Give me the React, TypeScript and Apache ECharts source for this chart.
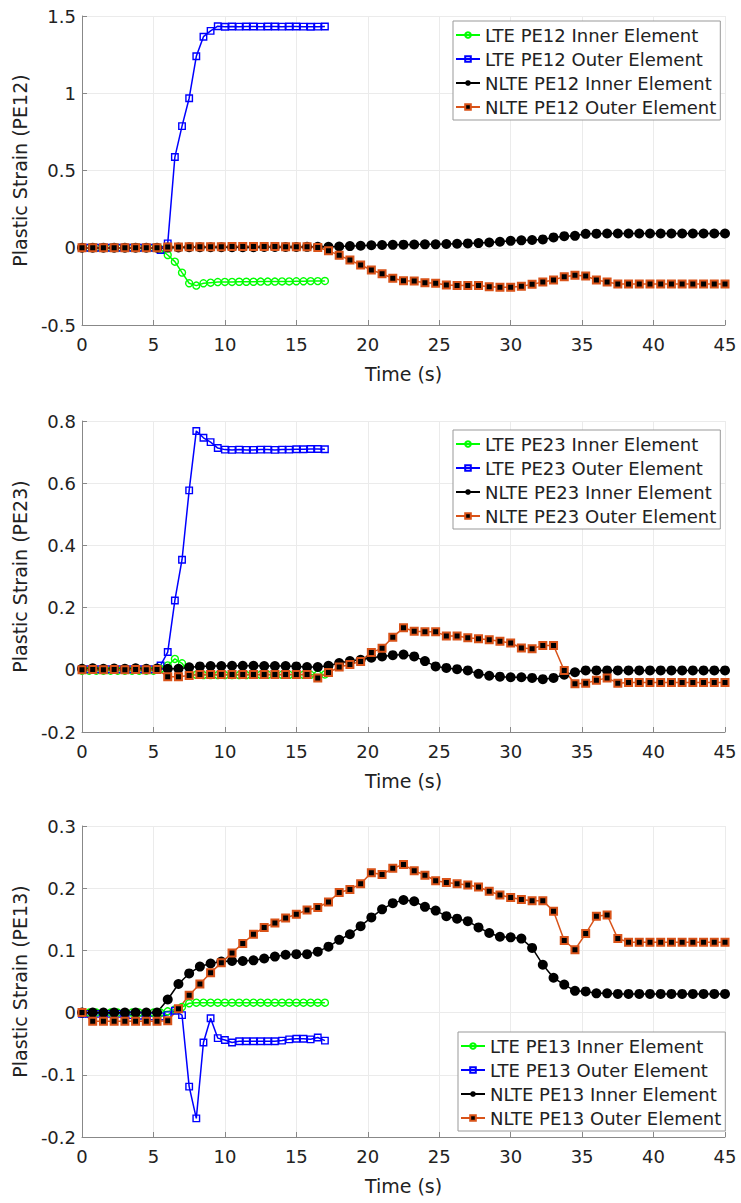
import React, { useEffect, useRef } from "react";
import * as echarts from "echarts";

const tLTE = [0, 0.5, 1, 1.5, 2, 2.5, 3, 3.5, 4, 4.5, 5, 5.5, 6, 6.5, 7, 7.5, 8, 8.5, 9, 9.5, 10, 10.5, 11, 11.5, 12, 12.5, 13, 13.5, 14, 14.5, 15, 15.5, 16, 16.5, 17];
const tNLTE = [0, 0.75, 1.5, 2.25, 3, 3.75, 4.5, 5.25, 6, 6.75, 7.5, 8.25, 9, 9.75, 10.5, 11.25, 12, 12.75, 13.5, 14.25, 15, 15.75, 16.5, 17.25, 18, 18.75, 19.5, 20.25, 21, 21.75, 22.5, 23.25, 24, 24.75, 25.5, 26.25, 27, 27.75, 28.5, 29.25, 30, 30.75, 31.5, 32.25, 33, 33.75, 34.5, 35.25, 36, 36.75, 37.5, 38.25, 39, 39.75, 40.5, 41.25, 42, 42.75, 43.5, 44.25, 45];

// PE12
const lteInner12 = [0, 0, 0, 0, 0, 0, 0, 0, 0, 0, 0, -0.01, -0.047, -0.09, -0.161, -0.23, -0.245, -0.23, -0.226, -0.222, -0.221, -0.221, -0.22, -0.22, -0.22, -0.219, -0.219, -0.219, -0.218, -0.218, -0.217, -0.217, -0.216, -0.216, -0.215];
const lteOuter12 = [0, 0, 0, 0, 0, 0, 0, 0, 0, 0, 0, -0.015, 0.028, 0.587, 0.787, 0.968, 1.239, 1.366, 1.404, 1.434, 1.43, 1.432, 1.431, 1.432, 1.432, 1.431, 1.432, 1.432, 1.431, 1.432, 1.432, 1.431, 1.43, 1.431, 1.432];
const nlteInner12 = [0, 0, 0, 0, 0, 0, 0, 0, 0.002, 0.002, 0.003, 0.003, 0.003, 0.004, 0.004, 0.004, 0.004, 0.005, 0.005, 0.005, 0.005, 0.006, 0.006, 0.006, 0.008, 0.011, 0.013, 0.016, 0.018, 0.019, 0.02, 0.021, 0.022, 0.022, 0.024, 0.026, 0.028, 0.03, 0.034, 0.039, 0.045, 0.048, 0.05, 0.054, 0.067, 0.075, 0.077, 0.09, 0.091, 0.092, 0.092, 0.092, 0.092, 0.092, 0.092, 0.092, 0.092, 0.092, 0.092, 0.092, 0.092];
const nlteOuter12 = [0, 0, 0, 0, 0, 0, 0, 0, 0.005, 0.005, 0.006, 0.006, 0.007, 0.007, 0.008, 0.008, 0.008, 0.008, 0.008, 0.007, 0.007, 0.006, 0.002, -0.019, -0.049, -0.079, -0.112, -0.144, -0.168, -0.198, -0.213, -0.215, -0.226, -0.23, -0.241, -0.245, -0.245, -0.245, -0.252, -0.256, -0.256, -0.249, -0.237, -0.221, -0.209, -0.187, -0.178, -0.183, -0.209, -0.221, -0.234, -0.234, -0.234, -0.234, -0.234, -0.234, -0.234, -0.234, -0.234, -0.234, -0.234];

// PE23
const lteInner23 = [-0.003, -0.003, -0.003, -0.003, -0.003, -0.003, -0.003, -0.003, -0.003, -0.003, -0.003, 0.003, 0.014, 0.035, 0.021, -0.012, -0.016, -0.017, -0.017, -0.017, -0.017, -0.017, -0.017, -0.017, -0.016, -0.016, -0.016, -0.016, -0.016, -0.016, -0.016, -0.016, -0.016, -0.015, -0.015];
const lteOuter23 = [0.002, 0.002, 0.002, 0.002, 0.002, 0.002, 0.002, 0.002, 0.002, 0.002, 0.002, 0.014, 0.057, 0.223, 0.354, 0.577, 0.768, 0.746, 0.732, 0.713, 0.708, 0.707, 0.708, 0.707, 0.707, 0.708, 0.708, 0.707, 0.708, 0.708, 0.709, 0.709, 0.71, 0.71, 0.709];
const nlteInner23 = [0.003, 0.005, 0.003, 0.004, 0.003, 0.005, 0.003, 0.004, 0.003, 0.003, 0.008, 0.011, 0.012, 0.012, 0.013, 0.013, 0.013, 0.012, 0.012, 0.012, 0.011, 0.009, 0.009, 0.013, 0.022, 0.028, 0.032, 0.039, 0.043, 0.047, 0.049, 0.043, 0.028, 0.011, 0.006, 0.002, -0.002, -0.013, -0.019, -0.022, -0.024, -0.024, -0.026, -0.03, -0.026, -0.016, -0.008, -0.002, -0.002, -0.002, -0.002, -0.002, -0.002, -0.002, -0.002, -0.002, -0.002, -0.002, -0.002, -0.002, -0.002];
const nlteOuter23 = [0, 0.001, 0, 0.001, 0, 0.001, 0, 0.001, -0.022, -0.022, -0.018, -0.015, -0.015, -0.015, -0.015, -0.015, -0.015, -0.015, -0.015, -0.015, -0.015, -0.015, -0.026, -0.009, 0.009, 0.017, 0.027, 0.056, 0.069, 0.105, 0.135, 0.124, 0.122, 0.122, 0.109, 0.109, 0.103, 0.1, 0.097, 0.092, 0.086, 0.07, 0.068, 0.078, 0.078, -0.002, -0.045, -0.043, -0.034, -0.026, -0.043, -0.041, -0.041, -0.041, -0.041, -0.041, -0.041, -0.041, -0.041, -0.041, -0.041];

// PE13
const lteInner13 = [0, 0, 0, 0, 0, 0, 0, 0, 0, 0, 0, 0, 0.002, 0.005, 0.009, 0.015, 0.016, 0.016, 0.016, 0.016, 0.016, 0.016, 0.016, 0.016, 0.016, 0.016, 0.016, 0.016, 0.016, 0.016, 0.016, 0.016, 0.016, 0.016, 0.016];
const lteOuter13 = [-0.002, -0.002, -0.002, -0.002, -0.002, -0.002, -0.002, -0.004, -0.005, -0.006, -0.006, -0.006, -0.004, 0.003, -0.004, -0.119, -0.17, -0.048, -0.009, -0.041, -0.044, -0.048, -0.046, -0.046, -0.046, -0.046, -0.046, -0.046, -0.045, -0.043, -0.042, -0.042, -0.043, -0.04, -0.045];
const nlteInner13 = [0, 0, 0, 0, 0, 0, 0, 0, 0.021, 0.046, 0.063, 0.074, 0.079, 0.082, 0.083, 0.083, 0.084, 0.087, 0.09, 0.093, 0.094, 0.094, 0.098, 0.106, 0.117, 0.126, 0.139, 0.153, 0.166, 0.176, 0.181, 0.179, 0.17, 0.164, 0.155, 0.151, 0.147, 0.137, 0.128, 0.122, 0.121, 0.119, 0.104, 0.077, 0.056, 0.045, 0.035, 0.034, 0.031, 0.031, 0.03, 0.03, 0.03, 0.03, 0.03, 0.03, 0.03, 0.03, 0.03, 0.03, 0.03];
const nlteOuter13 = [0, -0.014, -0.014, -0.014, -0.014, -0.014, -0.014, -0.014, -0.013, 0.006, 0.028, 0.046, 0.064, 0.08, 0.096, 0.111, 0.126, 0.137, 0.144, 0.152, 0.158, 0.165, 0.169, 0.178, 0.193, 0.198, 0.207, 0.225, 0.222, 0.232, 0.238, 0.228, 0.221, 0.212, 0.209, 0.207, 0.205, 0.202, 0.195, 0.189, 0.185, 0.182, 0.18, 0.18, 0.163, 0.116, 0.101, 0.127, 0.155, 0.157, 0.119, 0.113, 0.113, 0.113, 0.113, 0.113, 0.113, 0.113, 0.113, 0.113, 0.113];

const panels = [
  { tag: "PE12", min: -0.5, max: 1.5, interval: 0.5, top: 16, height: 309, legendTop: 21, legendLeft: 453, data: [lteInner12, lteOuter12, nlteInner12, nlteOuter12] },
  { tag: "PE23", min: -0.2, max: 0.8, interval: 0.2, top: 421, height: 311, legendTop: 430, legendLeft: 453, data: [lteInner23, lteOuter23, nlteInner23, nlteOuter23] },
  { tag: "PE13", min: -0.2, max: 0.3, interval: 0.1, top: 826, height: 311, legendTop: 1032, legendLeft: 458, data: [lteInner13, lteOuter13, nlteInner13, nlteOuter13] },
];

const FONT = "DejaVu Sans";
const GREEN = "#00ff00";
const BLUE = "#0000ff";
const ORANGE = "#D95319";

function pairs(t: number[], v: number[]) {
  return v.map((y, i) => [t[i], y]);
}

export default function App() {
  const ref = useRef<HTMLDivElement>(null);
  useEffect(() => {
    if (!ref.current) return;
    const chart = echarts.init(ref.current, undefined, { renderer: "svg" });
    const grid: any[] = [];
    const xAxis: any[] = [];
    const yAxis: any[] = [];
    const legend: any[] = [];
    const series: any[] = [];
    panels.forEach((p, k) => {
      grid.push({ left: 82, top: p.top, width: 643, height: p.height, containLabel: false });
      xAxis.push({
        type: "value", gridIndex: k, min: 0, max: 45, interval: 5,
        name: "Time (s)", nameLocation: "middle", nameGap: 39,
        nameTextStyle: { fontFamily: FONT, fontSize: 19, color: "#222" },
        axisLine: { show: true, onZero: false, lineStyle: { color: "#888", width: 1 } },
        axisTick: { show: true, inside: true, length: 5, lineStyle: { color: "#888" } },
        axisLabel: { fontFamily: FONT, fontSize: 18, color: "#222", margin: 10 },
        splitLine: { show: true, lineStyle: { color: "#ebebeb", width: 1 } },
      });
      yAxis.push({
        type: "value", gridIndex: k, min: p.min, max: p.max, interval: p.interval,
        name: "Plastic Strain (" + p.tag + ")", nameLocation: "middle", nameGap: 43,
        nameTextStyle: { fontFamily: FONT, fontSize: 19, color: "#222" },
        axisLine: { show: true, onZero: false, lineStyle: { color: "#888", width: 1 } },
        axisTick: { show: true, inside: true, length: 5, lineStyle: { color: "#888" } },
        axisLabel: { fontFamily: FONT, fontSize: 18, color: "#222", margin: 6 },
        splitLine: { show: true, lineStyle: { color: "#ebebeb", width: 1 } },
      });
      const names = [
        "LTE " + p.tag + " Inner Element",
        "LTE " + p.tag + " Outer Element",
        "NLTE " + p.tag + " Inner Element",
        "NLTE " + p.tag + " Outer Element",
      ];
      legend.push({
        show: true, orient: "vertical", left: p.legendLeft, top: p.legendTop,
        data: names, itemWidth: 24, itemHeight: 7, itemGap: 6,
        padding: [5, 4, 4, 2], borderColor: "#999", borderWidth: 1, backgroundColor: "#fff",
        textStyle: { fontFamily: FONT, fontSize: 18, color: "#222", padding: [0, 0, 0, 0] },
        selectedMode: false,
      });
      const styles = [
        { symbol: "circle", symbolSize: 7, line: GREEN, itemStyle: { color: "rgba(255,255,255,0)", borderColor: GREEN, borderWidth: 1.4 } },
        { symbol: "rect", symbolSize: 6.5, line: BLUE, itemStyle: { color: "rgba(255,255,255,0)", borderColor: BLUE, borderWidth: 1.4 } },
        { symbol: "circle", symbolSize: 10, line: "#000", itemStyle: { color: "#000", borderColor: "#000", borderWidth: 0 } },
        { symbol: "rect", symbolSize: 7, line: ORANGE, itemStyle: { color: "#000", borderColor: ORANGE, borderWidth: 2 } },
      ];
      p.data.forEach((vals, j) => {
        const t = j < 2 ? tLTE : tNLTE;
        const s = styles[j];
        series.push({
          type: "line", name: names[j], xAxisIndex: k, yAxisIndex: k,
          data: pairs(t, vals), symbol: s.symbol, symbolSize: s.symbolSize, showAllSymbol: true,
          lineStyle: { color: s.line, width: 1.5 }, itemStyle: s.itemStyle,
          emphasis: { disabled: true }, silent: true, clip: false,
        });
      });
    });
    chart.setOption({
      animation: false,
      backgroundColor: "#fff",
      grid, xAxis, yAxis, legend, series,
    });
    return () => chart.dispose();
  }, []);
  return (
    <div
      ref={ref}
      style={{ position: "fixed", left: 0, top: 0, width: 741, height: 1203, background: "#fff" }}
    />
  );
}
